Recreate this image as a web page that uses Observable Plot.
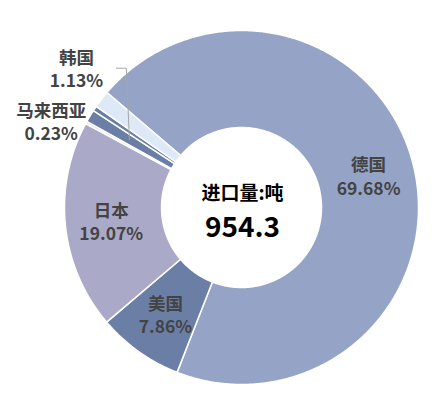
<!DOCTYPE html>
<html><head><meta charset="utf-8">
<script src="https://cdn.jsdelivr.net/npm/d3@7"></script>
<script src="https://cdn.jsdelivr.net/npm/@observablehq/plot@0.6"></script>
<style>body{margin:0;background:#fff;font-family:"Noto Sans CJK SC",sans-serif}</style>
</head><body><div id="chart"></div>
<script>
const categories = ["德国","美国","日本","马来西亚","韩国","其他1","其他2"];
const shares = [69.68, 7.86, 19.07, 0.23, 1.13, 0.45, 1.58];
const colors = ["#95a3c6","#6b7fa6","#aaa9c7","#e2e3ea","#6b7fa6","#6b7fa6","#dde9f6"];
const insideLabels = ["德国","美国","日本"];
const outsideLabels = ["马来西亚","韩国"];
const centerTitle = "进口量:吨";
const centerValue = "954.3";

// layout constants
const W = 446, H = 413, CX = 241, CY = 207;
const R_OUT = 177, R_IN = 80, R_LABEL = 131;
const START = -49.5; // degrees clockwise from 12 o'clock
const outsideR = {"马来西亚": 209, "韩国": 216};
const outsideNudge = {"马来西亚": -4.3, "韩国": 9};

const rad = d => d * Math.PI / 180;
const polar = (deg, r) => [r * Math.sin(rad(deg)), -r * Math.cos(rad(deg))];

const total = d3.sum(shares);
let acc = START;
const slices = categories.map((c, i) => {
  const a0 = acc, a1 = acc + shares[i] / total * 360;
  acc = a1;
  return {name: c, share: shares[i], color: colors[i], a0, a1, mid: (a0 + a1) / 2};
});

function ring(s) {
  const pts = [];
  const n = Math.max(2, Math.ceil((s.a1 - s.a0) / 0.5));
  for (let k = 0; k <= n; k++) { const a = s.a0 + (s.a1 - s.a0) * k / n; const [x, y] = polar(a, R_OUT); pts.push({x, y}); }
  for (let k = n; k >= 0; k--) { const a = s.a0 + (s.a1 - s.a0) * k / n; const [x, y] = polar(a, R_IN); pts.push({x, y}); }
  return pts;
}

const sliceMarks = slices.map(s => Plot.line(ring(s), {x: "x", y: "y", fill: s.color, stroke: "#fff", strokeWidth: 1.5, curve: "linear-closed"}));

const inside = slices.filter(s => insideLabels.includes(s.name)).map(s => {
  const [x, y] = polar(s.mid, R_LABEL);
  return {x, y, text: s.name + "\n" + s.share.toFixed(2) + "%"};
});
const outside = slices.filter(s => outsideLabels.includes(s.name)).map(s => {
  const [x, y] = polar(s.mid + outsideNudge[s.name], outsideR[s.name]);
  return {x, y, text: s.name + "\n" + s.share.toFixed(2) + "%", s};
});

// leader line for 韩国
const kr = outside.find(d => d.s.name === "韩国");
const [ex, ey] = polar(kr.s.mid, R_LABEL);
const leader = [
  {x: ex - 13, y: kr.y},
  {x: ex - 3, y: kr.y},
  {x: ex, y: ey}
];

const chart = Plot.plot({
  width: W, height: H,
  margin: 0,
  x: {domain: [-CX, W - CX], range: [0, W], axis: null},
  y: {domain: [-CY, H - CY], range: [0, H], axis: null},
  style: {fontFamily: '"Noto Sans CJK SC", sans-serif', background: "#fff"},
  marks: [
    ...sliceMarks,
    Plot.line(leader, {x: "x", y: "y", stroke: "#a6a6a6", strokeWidth: 1}),
    Plot.text(inside.concat(outside), {x: "x", y: "y", text: "text", fontSize: 17.5, fontWeight: 600, fill: "#434343", lineHeight: 1.33}),
    Plot.text([centerTitle], {x: () => 1, y: () => -14, text: d => d, fontSize: 19, fontWeight: "bold", fill: "#000"}),
    Plot.text([centerValue], {x: () => 1, y: () => 21, text: d => d, fontSize: 28, fontWeight: "bold", fill: "#000"})
  ]
});
document.getElementById("chart").appendChild(chart);
</script>
</body></html>
